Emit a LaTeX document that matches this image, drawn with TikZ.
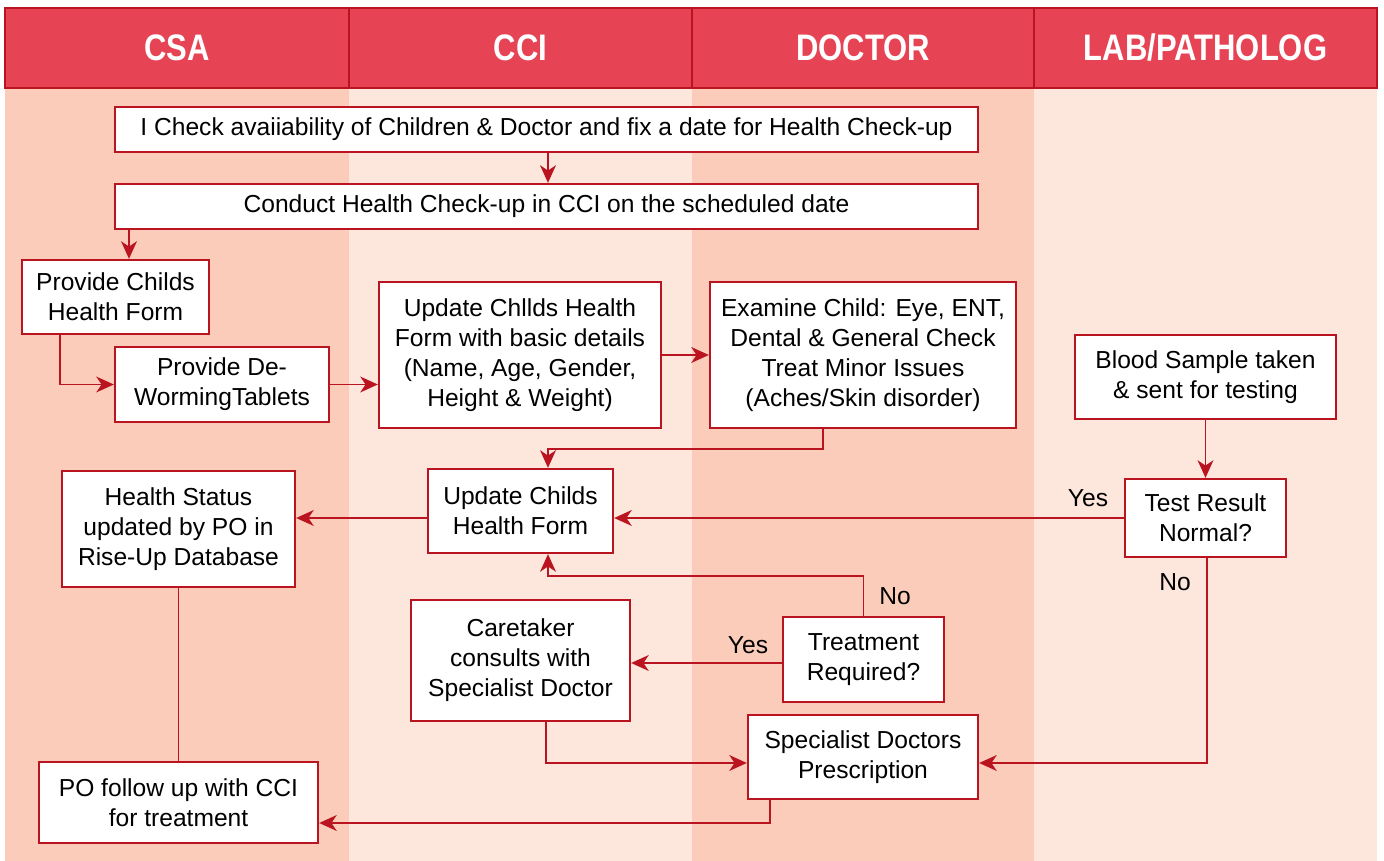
\documentclass[tikz,border=0pt]{standalone}
\usepackage{fontspec}
\setmainfont{Liberation Sans}
\newfontfamily\headfont[FakeStretch=0.84]{Liberation Sans}
\usetikzlibrary{arrows.meta,positioning}
\definecolor{headred}{RGB}{230,68,85}
\definecolor{darkred}{RGB}{186,20,32}
\definecolor{lanedark}{RGB}{251,204,185}
\definecolor{lanelight}{RGB}{253,230,220}

\tikzset{
  wh/.style 2 args={minimum width=#1*0.02cm, minimum height=#2*0.02cm},
  box/.style={draw=darkred, line width=1.3pt, fill=white, align=center, inner sep=0pt,
    font=\fontsize{14}{17}\selectfont},
  flow/.style={->, draw=darkred, line width=1.1pt},
  lbl/.style={font=\fontsize{14}{17}\selectfont, inner sep=0pt}
}

\begin{document}
\begin{tikzpicture}[x=0.02cm, y=-0.02cm, >={Stealth[length=10pt,width=9pt,inset=3pt]}]
  \useasboundingbox (0,0) rectangle (1384,861);

  % Lanes
  \fill[lanedark] (5,88) rectangle (349,861);
  \fill[lanelight] (349,88) rectangle (692,861);
  \fill[lanedark] (692,88) rectangle (1034,861);
  \fill[lanelight] (1034,88) rectangle (1377,861);

  % Header
  \foreach \xa/\xb/\title [count=\i] in {5/349/CSA, 349/692/CCI, 692/1034/DOCTOR, 1034/1377/{LAB/PATHOLOG}} {
    \draw[fill=headred, draw=darkred, line width=0.8pt] (\xa,8) rectangle (\xb,88);
    \node[text=white, font=\headfont\bfseries\fontsize{21}{24}\selectfont] (head\i) at ({(\xa+\xb)/2},48) {\title};
  }

  % Steps
  \node[box, wh={863}{45}] (check) at (546.5,129.5) {I Check avaiiability of Children \& Doctor and fix a date for Health Check-up};
  \node[box, wh={863}{45}] (conduct) at (546.5,206.5) {Conduct Health Check-up in CCI on the scheduled date};
  \node[box, wh={187}{74}] (form) at (115.5,297) {Provide Childs\\Health Form};
  \node[box, wh={214}{75}] (deworm) at (222,384.5) {Provide De-\\WormingTablets};
  \node[box, wh={282}{146}] (basic) at (520,355) {Update Chllds Health\\Form with basic details\\(Name, Age, Gender,\\Height \& Weight)};
  \node[box, wh={306}{146}] (exam) at (863,355) {Examine Child: Eye, ENT,\\Dental \& General Check\\Treat Minor Issues\\(Aches/Skin disorder)};
  \node[box, wh={261}{84}] (blood) at (1205.5,377) {Blood Sample taken\\\& sent for testing};
  \node[box, wh={161}{78}] (test) at (1205.5,518) {Test Result\\Normal?};
  \node[box, wh={185}{84}] (update) at (520.5,511) {Update Childs\\Health Form};
  \node[box, wh={233}{116}] (status) at (178.5,529) {Health Status\\updated by PO in\\Rise-Up Database};
  \node[box, wh={219}{121}] (caretaker) at (520.5,660.5) {Caretaker\\consults with\\Specialist Doctor};
  \node[box, wh={161}{85}] (treat) at (863.5,659.5) {Treatment\\Required?};
  \node[box, wh={230}{84}] (presc) at (863,757) {Specialist Doctors\\Prescription};
  \node[box, wh={279}{81}] (follow) at (178.5,802.5) {PO follow up with CCI\\for treatment};

  % Connectors
  \draw[flow] (check.south -| 548,0) -- (conduct.north -| 548,0);
  \draw[flow] (conduct.south -| 129,0) -- (form.north -| 129,0);
  \draw[flow] (form.south -| 60,0) |- (deworm);
  \draw[flow] (deworm.east) -- (deworm.east -| basic.west);
  \draw[flow] (basic) -- (exam);
  \draw[flow] (exam.south -| 823,0) |- (548,449) -- (update.north -| 548,0);
  \draw[flow] (blood) -- (test);
  \draw[flow] (test.west |- 0,518) -- (update.east |- 0,518);
  \draw[flow] (update.west |- 0,518) -- (status.east |- 0,518);
  \draw[flow] (treat.west |- 0,663) -- (caretaker.east |- 0,663);
  \draw[flow] (treat.north) |- (548,576) -- (update.south -| 548,0);
  \draw[flow] (caretaker.south -| 546,0) |- (presc.west |- 0,763);
  \draw[flow] (test.south -| 1207,0) |- (presc.east |- 0,763);
  \draw[darkred, line width=1.1pt] (status) -- (follow);
  \draw[flow] (presc.south -| 770,0) |- (follow.east |- 0,823);

  % Labels
  \node[lbl] (yes1) at (1088,498) {Yes};
  \node[lbl] (no1) at (1175,582) {No};
  \node[lbl] (yes2) at (748,645) {Yes};
  \node[lbl] (no2) at (895,596) {No};
\end{tikzpicture}
\end{document}
